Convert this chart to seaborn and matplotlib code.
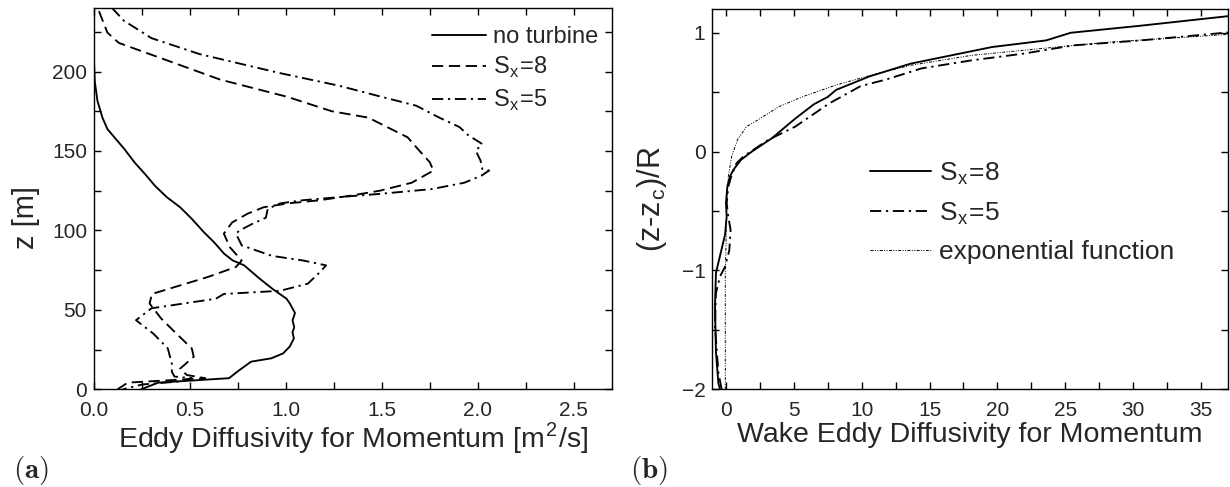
import numpy as np
import pandas as pd
import matplotlib
matplotlib.use("Agg")
import matplotlib.pyplot as plt
from matplotlib.ticker import MultipleLocator, FormatStrFormatter
import seaborn as sns

# ---------------- data: panel (a) ----------------
noturb_z = [214, 206.7, 194, 181.6, 171, 163.8, 157.5, 151.3, 142.9, 134.5, 128.2, 121, 114.6,
            107.3, 99, 92.7, 85.4, 81.2, 78, 69.7, 63, 57, 54, 48, 43.5, 39, 36, 32, 27, 22.6,
            19.5, 17.4, 12, 7, 4.2, 0]
noturb_k = [0.0, 0.0, 0.004, 0.018, 0.044, 0.07, 0.114, 0.158, 0.211, 0.273, 0.317, 0.379, 0.449,
            0.51, 0.572, 0.625, 0.678, 0.722, 0.783, 0.863, 0.933, 1.004, 1.021, 1.048, 1.035,
            1.044, 1.035, 1.042, 1.021, 0.986, 0.924, 0.819, 0.757, 0.704, 0.335, 0.246]

sx8_z = [238, 224.5, 218, 195, 184, 175, 171, 158.6, 151, 143, 137.7, 130, 125, 122, 119, 117,
         114.6, 110.5, 105, 98, 89.5, 81, 77, 70.7, 60, 54, 44.6, 35, 25.7, 20.5, 13, 9, 7, 4.2, 0]
sx8_k = [0.026, 0.07, 0.13, 0.656, 1.01, 1.24, 1.43, 1.635, 1.69, 1.75, 1.77, 1.656, 1.49, 1.344,
         1.177, 1.01, 0.885, 0.80, 0.72, 0.677, 0.708, 0.77, 0.74, 0.594, 0.302, 0.29, 0.35, 0.43,
         0.51, 0.52, 0.449, 0.484, 0.58, 0.176, 0.123]

sx5_z = [240, 232, 221, 211, 199, 191, 185, 178.5, 171, 165, 160, 154.4, 150.2, 144, 138.7, 137.7,
         134.5, 130, 126, 123, 121, 119, 117, 113.6, 108, 104, 100, 98, 90.6, 84, 81, 78, 74, 66.5,
         62, 60, 57, 51, 43.5, 35, 25.7, 16, 11, 8, 7, 5, 3, 0]
sx5_k = [0.094, 0.156, 0.30, 0.55, 0.97, 1.28, 1.47, 1.68, 1.80, 1.906, 1.95, 2.024, 1.99, 2.015,
         2.024, 2.06, 2.02, 1.93, 1.76, 1.49, 1.28, 1.09, 0.97, 0.906, 0.896, 0.823, 0.76, 0.74,
         0.77, 0.927, 1.094, 1.21, 1.18, 1.115, 0.97, 0.677, 0.635, 0.30, 0.219, 0.31, 0.385,
         0.406, 0.406, 0.42, 0.51, 0.45, 0.25, 0.15]

# ---------------- data: panel (b) ----------------
wb8_y = [-2.0, -1.95, -1.69, -1.30, -1.02, -0.70, -0.546, -0.434, -0.294, -0.21, -0.154, -0.07,
         0.0, 0.112, 0.28, 0.40, 0.46, 0.52, 0.634, 0.74, 0.81, 0.88, 0.936, 1.0, 1.06, 1.146]
wb8_x = [-0.44, -0.56, -0.74, -0.81, -0.74, -0.07, 0.05, 0.0, 0.1, 0.29, 0.54, 1.1, 1.9, 3.375,
         5.125, 6.5, 7.5, 8.125, 10.6, 13.6, 16.6, 19.6, 23.6, 25.4, 30.6, 37.5]

wb5_y = [-2.0, -1.86, -1.47, -1.19, -1.05, -0.97, -0.83, -0.66, -0.546, -0.434, -0.294, -0.196,
         -0.098, -0.042, 0.098, 0.21, 0.405, 0.55, 0.61, 0.70, 0.768, 0.824, 0.894, 0.936, 1.008]
wb5_x = [-0.32, -0.56, -0.81, -0.74, -0.44, -0.07, 0.245, 0.34, 0.17, 0.05, 0.17, 0.42, 0.78,
         1.27, 3.1, 5.1, 7.6, 9.9, 11.9, 14.4, 18.1, 21.9, 25.6, 30.6, 37.5]

exp_y = [-2.0, -1.02, -0.8, -0.43, -0.21, -0.04, 0.1, 0.21, 0.27, 0.377, 0.46, 0.56, 0.64,
         0.726, 0.81, 0.866, 0.92, 0.99]
exp_x = [-0.05, -0.05, 0.0, 0.05, 0.17, 0.42, 0.85, 1.5, 2.4, 3.875, 5.6, 8.1, 10.6, 13.6,
         18.1, 23.1, 28.1, 37.5]

# ---------------- style ----------------
sns.set_theme(style="ticks")
plt.rcParams['font.family'] = ['Liberation Sans', 'DejaVu Sans']
plt.rcParams['mathtext.fontset'] = 'cm'
plt.rcParams['axes.edgecolor'] = 'black'
plt.rcParams['axes.linewidth'] = 1.0

fig = plt.figure(figsize=(12.3, 4.87), dpi=100)
axA = fig.add_axes([0.0764, 0.2006, 0.4211, 0.7830])
axB = fig.add_axes([0.5792, 0.2006, 0.4192, 0.7809])

DASH = (0, (6, 3))
DASHDOT = (0, (6, 2.5, 1.2, 2.5))
DASHDOTDOT = (0, (3, 1.5, 1, 1.5, 1, 1.5))
LW = 1.35


def line(ax, x, y, ls, label, lw=LW):
    df = pd.DataFrame({"x": x, "y": y})
    sns.lineplot(data=df, x="x", y="y", sort=False, estimator=None, ax=ax,
                 color="black", linewidth=lw, linestyle=ls, label=label)


line(axA, noturb_k, noturb_z, "-", "no turbine")
line(axA, sx8_k, sx8_z, DASH, r"S$_{\mathregular{x}}$=8")
line(axA, sx5_k, sx5_z, DASHDOT, r"S$_{\mathregular{x}}$=5")

line(axB, wb8_x, wb8_y, "-", r"S$_{\mathregular{x}}$=8")
line(axB, wb5_x, wb5_y, DASHDOT, r"S$_{\mathregular{x}}$=5")
line(axB, exp_x, exp_y, DASHDOTDOT, "exponential function", lw=0.7)

axA.set_xlim(0, 2.7)
axA.set_ylim(0, 240)
axA.xaxis.set_major_locator(MultipleLocator(0.5))
axA.xaxis.set_minor_locator(MultipleLocator(0.25))
axA.yaxis.set_major_locator(MultipleLocator(50))
axA.yaxis.set_minor_locator(MultipleLocator(25))
axA.xaxis.set_major_formatter(FormatStrFormatter('%.1f'))
axA.set_xlabel(r"Eddy Diffusivity for Momentum [m$^{\mathregular{2}}$/s]", fontsize=20.5, labelpad=1)
axA.set_ylabel("z [m]", fontsize=21)
axA.yaxis.set_label_coords(-0.105, 0.45)

axB.set_xlim(-1, 37)
axB.set_ylim(-2, 1.2)
axB.xaxis.set_major_locator(MultipleLocator(5))
axB.xaxis.set_minor_locator(MultipleLocator(2.5))
axB.yaxis.set_major_locator(MultipleLocator(1))
axB.yaxis.set_minor_locator(MultipleLocator(0.5))
axB.set_xlabel("Wake Eddy Diffusivity for Momentum", fontsize=20.5, labelpad=1)
axB.set_ylabel(r"(z-z$_{\mathregular{c}}$)/R", fontsize=22, labelpad=9)

for ax in (axA, axB):
    for s in ax.spines.values():
        s.set_visible(True)
        s.set_color("black")
    ax.tick_params(which="both", direction="in", top=True, right=True, color="black",
                   labelsize=15, width=1.0)
    ax.tick_params(axis="x", which="both", pad=8.5)
    ax.tick_params(axis="y", which="both", pad=5)
    ax.tick_params(which="major", length=5)
    ax.tick_params(which="minor", length=5)

legA = axA.legend(loc="upper left", frameon=False, fontsize=17, handlelength=2.3,
                  handletextpad=0.3, labelspacing=0.32, borderaxespad=0.0,
                  bbox_to_anchor=(0.634, 0.978))
legB = axB.legend(loc="center left", frameon=False, fontsize=19, handlelength=2.3,
                  handletextpad=0.3, labelspacing=0.5, borderaxespad=0.0,
                  bbox_to_anchor=(0.285, 0.466))

fig.text(0.0106, 0.018, r"$\mathbf{(a)}$", fontsize=21, va="baseline")
fig.text(0.512, 0.018, r"$\mathbf{(b)}$", fontsize=21, va="baseline")

fig.savefig("out.png", dpi=100)
